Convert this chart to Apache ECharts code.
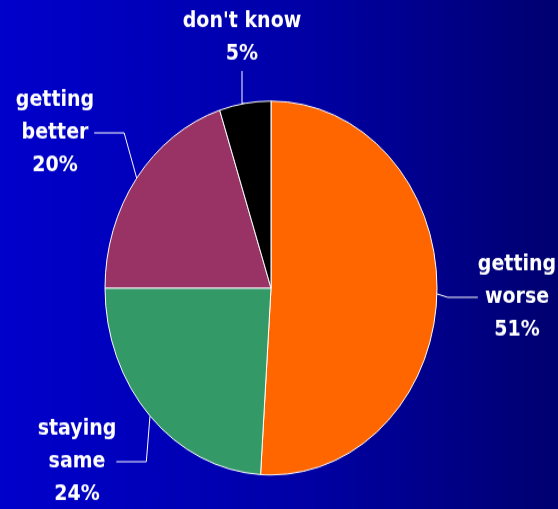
<!DOCTYPE html>
<html>
<head>
<meta charset="utf-8">
<script src="https://cdn.jsdelivr.net/npm/echarts@6/dist/echarts.min.js"></script>
<style>
  html, body { margin: 0; padding: 0; width: 558px; height: 509px; overflow: hidden;
    background: linear-gradient(to right, #0000CC, #0000AA 50%, #000070); }
  #frame { position: relative; width: 558px; height: 509px; overflow: hidden; }
  /* the chart is drawn slightly squat and stretched tall, giving an oval pie */
  #chart { position: absolute; left: 0; top: 0; width: 558px; height: 452px;
    transform: scaleY(1.1261); transform-origin: 0 0; }
</style>
</head>
<body>
<div id="frame"><div id="chart"></div></div>
<script>
// Survey answers, clockwise from 12 o'clock
const categories = ['getting\nworse', 'staying\nsame', 'getting\nbetter', "don't know"];
const shares = [51, 24, 20, 5];
const sliceColors = ['#FF6600', '#339966', '#993366', '#000000'];
// Label anchor (centre of text block) per slice, in unstretched pixels
const labelSpots = [[517, 264], [77, 410], [55, 118], [242, 34]];

const chart = echarts.init(document.getElementById('chart'));
chart.setOption({
  backgroundColor: {
    type: 'linear', x: 0, y: 0, x2: 1, y2: 0,
    colorStops: [
      { offset: 0, color: '#0000CC' },
      { offset: 0.5, color: '#0000AA' },
      { offset: 1, color: '#000070' }
    ]
  },
  animation: false,
  series: [{
    type: 'pie',
    center: [271, 255.75],
    radius: 166,
    startAngle: 90,
    clockwise: true,
    data: categories.map((name, i) => ({
      name, value: shares[i],
      itemStyle: { color: sliceColors[i] }
    })),
    itemStyle: { borderColor: '#ffffff', borderWidth: 1 },
    label: {
      show: true,
      formatter: p => p.name + '\n' + p.value + '%',
      color: '#ffffff',
      fontFamily: 'DejaVu Sans',
      fontWeight: 'bold',
      fontSize: 19,
      lineHeight: 29,
      align: 'center',
      overflow: 'none'
    },
    labelLine: {
      show: true,
      lineStyle: { color: '#ffffff', width: 1 }
    },
    labelLayout: p => ({
      x: labelSpots[p.dataIndex][0],
      y: labelSpots[p.dataIndex][1],
      align: 'center',
      verticalAlign: 'middle'
    })
  }]
});
</script>
</body>
</html>
